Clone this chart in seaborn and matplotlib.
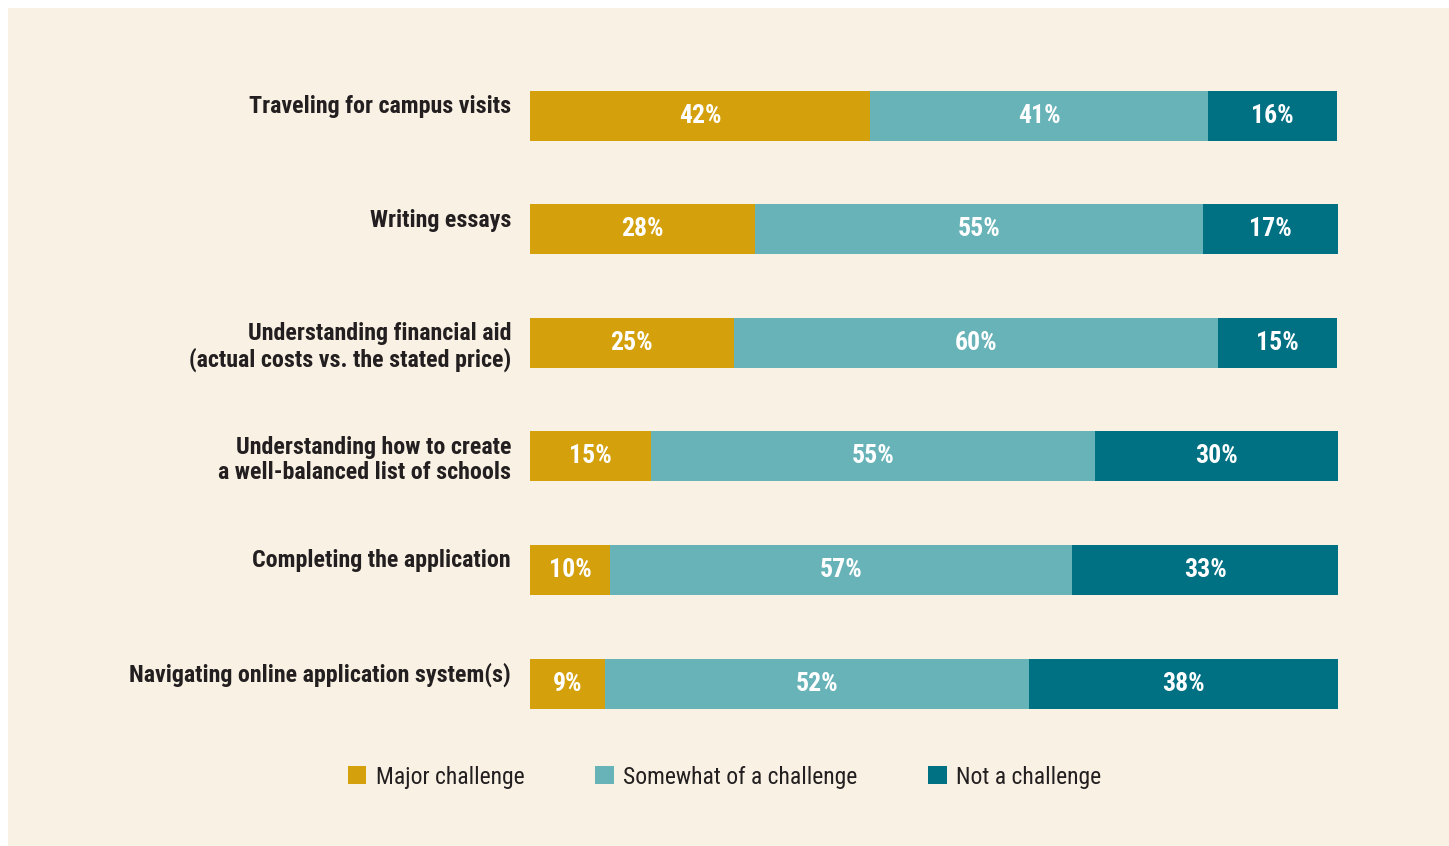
import matplotlib
matplotlib.use("Agg")
import matplotlib.pyplot as plt
from matplotlib import font_manager as fm
from matplotlib.patches import Rectangle, Patch
import seaborn as sns
import pandas as pd

# Данные (ширины сегментов, подписи - как на графике)
items = [
    "Traveling for campus visits",
    "Writing essays",
    "Understanding financial aid\n(actual costs vs. the stated price)",
    "Understanding how to create\na well-balanced list of schools",
    "Completing the application",
    "Navigating online application system(s)",
]
major = [42.1, 27.9, 25.2, 15.0, 9.9, 9.3]
somewhat = [41.8, 55.4, 60.0, 54.9, 57.2, 52.5]
not_ch = [16.0, 16.7, 14.7, 30.1, 32.9, 38.2]
major_lbl = [42, 28, 25, 15, 10, 9]
somewhat_lbl = [41, 55, 60, 55, 57, 52]
not_lbl = [16, 17, 15, 30, 33, 38]
series = ["Major challenge", "Somewhat of a challenge", "Not a challenge"]
colors = ["#D4A00C", "#68B3B8", "#007083"]
CREAM = "#F9F1E3"
TEXT = "#231F20"

df = pd.DataFrame({"item": items, "major": major, "somewhat": somewhat, "not": not_ch})
df["cum1"] = df["major"]
df["cum2"] = df["major"] + df["somewhat"]
df["cum3"] = df["cum2"] + df["not"]


# --- подбор узкого шрифта ---
def wnum(w):
    if isinstance(w, str):
        return fm.weight_dict.get(w, 400)
    return w


def pick_font(bold):
    prefer = ["Roboto Condensed", "Liberation Sans Narrow", "DejaVu Sans Condensed",
              "Open Sans Condensed", "Noto Sans Condensed"]
    cands = []
    for f in fm.fontManager.ttflist:
        cond = ("Condensed" in f.name or "Narrow" in f.name
                or f.stretch in ("condensed", "semi-condensed", "extra-condensed", "ultra-condensed"))
        if not cond or f.style != "normal":
            continue
        w = wnum(f.weight)
        if bold and w < 600:
            continue
        if not bold and w >= 600:
            continue
        rank = prefer.index(f.name) if f.name in prefer else len(prefer)
        cands.append((rank, abs(w - (700 if bold else 400)), f.fname))
    if cands:
        cands.sort()
        return fm.FontProperties(fname=cands[0][2]), True
    return fm.FontProperties(family="DejaVu Sans", weight="bold" if bold else "normal"), False


fp_bold, ok_b = pick_font(True)
fp_reg, ok_r = pick_font(False)
size_lbl = 17.3 if ok_b else 14
size_pct = 18.5 if ok_b else 14
size_leg = 17 if ok_r else 14
fp_leg = fp_reg.copy()
fp_leg.set_size(size_leg)

sns.set_theme(style="white")

fig = plt.figure(figsize=(14.49, 8.46), dpi=100)
fig.patch.set_facecolor("white")
fig.patches.append(Rectangle((8 / 1449, 0), 1, 838 / 846, transform=fig.transFigure,
                             facecolor=CREAM, edgecolor="none", zorder=-10))

ax = fig.add_axes([530 / 1449, 0.1249, 808 / 1449, 0.8057])
ax.set_facecolor("none")

bar_h = 0.44
for col, c in zip(["cum3", "cum2", "cum1"], colors[::-1]):
    sns.barplot(data=df, x=col, y="item", color=c, width=bar_h, orient="h",
                saturation=1, linewidth=0, edgecolor="none", ax=ax)

ax.set_xlim(0, 100)
ax.set_ylim(len(items) - 0.5, -0.5)
ax.set_xlabel("")
ax.set_ylabel("")
ax.set_xticks([])
ax.set_yticks([])
sns.despine(ax=ax, left=True, bottom=True)

# подписи процентов внутри сегментов
for i in range(len(items)):
    lefts = [0, major[i], major[i] + somewhat[i]]
    widths = [major[i], somewhat[i], not_ch[i]]
    lbls = [major_lbl[i], somewhat_lbl[i], not_lbl[i]]
    for l, w, t in zip(lefts, widths, lbls):
        ax.text(l + w / 2, i, f"{t}%", ha="center", va="center", color="white",
                fontproperties=fp_bold, fontsize=size_pct)

# названия категорий - выровнены по верхнему краю полосы
for i, name in enumerate(items):
    ax.text(-19 / 808 * 100, i - bar_h / 2 + 0.04, name, ha="right", va="top",
            color=TEXT, fontproperties=fp_bold, fontsize=size_lbl, linespacing=1.12)

handles = [Patch(facecolor=c, edgecolor="none") for c in colors]
leg = fig.legend(handles, series, loc="center", bbox_to_anchor=(0.5, 1 - 777 / 846),
                 ncol=3, frameon=False, prop=fp_leg,
                 handlelength=0.78, handleheight=0.78, handletextpad=0.4,
                 columnspacing=3.0)
for t in leg.get_texts():
    t.set_color(TEXT)

fig.savefig("out.png", dpi=100, facecolor=fig.get_facecolor())
